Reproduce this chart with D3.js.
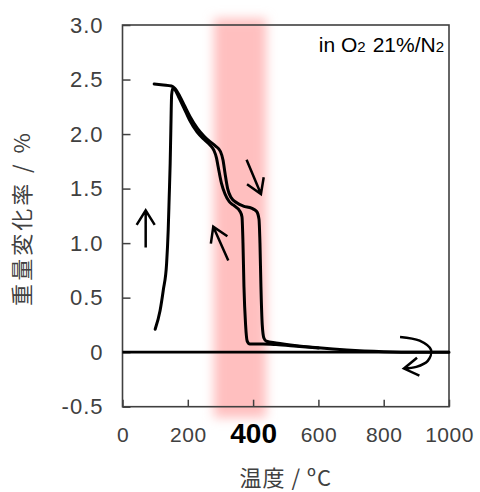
<!DOCTYPE html>
<html>
<head>
<meta charset="utf-8">
<script src="https://cdn.jsdelivr.net/npm/d3@7"></script>
<style>
  body { margin: 0; background: #fff; }
  svg { display: block; font-family: "Liberation Sans", Arial, sans-serif; }
</style>
</head>
<body>
<div id="chart"></div>
<script>
// heating run (flat start, right branch)
const heatTemp = [97, 125, 150, 160, 175, 190, 207, 230, 250, 268, 285, 300, 308, 314, 322, 332, 350, 370, 395, 411, 418, 421, 424, 428, 433, 441, 470, 533, 600, 687, 800, 900, 1000];
const heatMass = [2.46, 2.45, 2.44, 2.42, 2.35, 2.26, 2.16, 2.05, 1.98, 1.93, 1.89, 1.84, 1.76, 1.64, 1.50, 1.42, 1.37, 1.34, 1.32, 1.29, 1.22, 1.0, 0.6, 0.25, 0.13, 0.10, 0.085, 0.06, 0.04, 0.02, 0.005, 0, 0];

// second run (steep rise, left branch)
const coolTemp = [100, 115, 125, 135, 140, 143, 146, 148, 150.5, 154, 160, 172, 188, 205, 228, 250, 268, 280, 288, 293, 303, 314, 327, 339, 360, 366, 369, 372, 377, 382, 390, 430, 470, 533, 600];
const coolMass = [0.21, 0.38, 0.57, 0.81, 1.12, 1.42, 1.73, 2.03, 2.36, 2.42, 2.41, 2.34, 2.24, 2.13, 2.02, 1.95, 1.90, 1.85, 1.78, 1.70, 1.55, 1.45, 1.38, 1.35, 1.29, 1.24, 1.0, 0.6, 0.25, 0.10, 0.075, 0.075, 0.07, 0.055, 0.038];

const yTicks = [-0.5, 0, 0.5, 1.0, 1.5, 2.0, 2.5, 3.0];
const yTickLabels = ["-0.5", "0", "0.5", "1.0", "1.5", "2.0", "2.5", "3.0"];
const xTicks = [0, 200, 400, 600, 800, 1000];

// highlighted temperature band
const bandRange = [280, 440];

// arrows: [tailT, tailM, tipT, tipM]
const arrows = [
    [71, 0.96, 71, 1.30],
    [324, 0.84, 278, 1.15],
    [380, 1.765, 424, 1.45]
];
const loopTemp = [850, 910, 945, 935, 900, 862];
const loopMass = [0.14, 0.105, 0.02, -0.08, -0.135, -0.15];

const width = 480;
const height = 492;

const svg = d3.select("#chart")
    .append("svg")
    .attr("width", width)
    .attr("height", height);

const x = d3.scaleLinear().domain([0, 1000]).range([122.5, 449]);
const y = d3.scaleLinear().domain([-0.5, 3]).range([406.7, 25]);

// blur for the pink band
const defs = svg.append("defs");
defs.append("filter")
    .attr("id", "blur")
    .attr("x", "-50%").attr("y", "-10%")
    .attr("width", "200%").attr("height", "120%")
    .append("feGaussianBlur")
    .attr("stdDeviation", 5.5);

svg.append("rect")
    .attr("x", x(bandRange[0]))
    .attr("y", y(3.06))
    .attr("width", x(bandRange[1]) - x(bandRange[0]))
    .attr("height", y(-0.6) - y(3.06))
    .attr("fill", "#ffbfbf")
    .attr("filter", "url(#blur)");

// axes
const yAxis = d3.axisLeft(y)
    .tickValues(yTicks)
    .tickFormat(function(d, i) { return yTickLabels[i]; })
    .tickSizeInner(-8)
    .tickSizeOuter(0)
    .tickPadding(19);

const gy = svg.append("g")
    .attr("transform", "translate(" + x(0) + ",0)")
    .call(yAxis);

const xAxis = d3.axisBottom(x)
    .tickValues(xTicks)
    .tickFormat(d3.format("d"))
    .tickSizeInner(-7)
    .tickSizeOuter(0)
    .tickPadding(20);

const gx = svg.append("g")
    .attr("transform", "translate(0," + y(-0.5) + ")")
    .call(xAxis);

[gx, gy].forEach(function(g) {
    g.select(".domain").remove();
    g.selectAll("line").attr("stroke", "#404040").attr("stroke-width", 1.5);
    g.selectAll("text")
        .attr("fill", "#404040")
        .style("font-family", "'Liberation Sans', Arial, sans-serif");
});

gy.selectAll("text")
    .style("font-size", "22px")
    .style("letter-spacing", "1px");

gx.selectAll("text")
    .style("font-size", "21px")
    .style("letter-spacing", "0.5px");

gx.selectAll(".tick")
    .filter(function(d) { return d === 400; })
    .select("text")
    .attr("fill", "#000")
    .attr("dy", "16px")
    .style("font-weight", "bold")
    .style("font-size", "28px")
    .style("letter-spacing", "0px");

// frame
svg.append("rect")
    .attr("x", x(0))
    .attr("y", y(3))
    .attr("width", x(1000) - x(0))
    .attr("height", y(-0.5) - y(3))
    .attr("fill", "none")
    .attr("stroke", "#404040")
    .attr("stroke-width", 1.6);

// zero line
svg.append("line")
    .attr("x1", x(0)).attr("x2", x(1000))
    .attr("y1", y(0)).attr("y2", y(0))
    .attr("stroke", "#000")
    .attr("stroke-width", 2.8);

// curves
const line = d3.line()
    .x(function(d) { return x(d[0]); })
    .y(function(d) { return y(d[1]); })
    .curve(d3.curveMonotoneX);

[[heatTemp, heatMass], [coolTemp, coolMass]].forEach(function(s) {
    svg.append("path")
        .datum(d3.zip(s[0], s[1]))
        .attr("d", line)
        .attr("fill", "none")
        .attr("stroke", "#000")
        .attr("stroke-width", 3)
        .attr("stroke-linejoin", "round")
        .attr("stroke-linecap", "round");
});

// arrows
function arrowHead(tipX, tipY, ang) {
    const len = 17;
    const spread = 0.56;
    const p1 = [tipX - len * Math.cos(ang - spread), tipY - len * Math.sin(ang - spread)];
    const p2 = [tipX - len * Math.cos(ang + spread), tipY - len * Math.sin(ang + spread)];
    return "M" + p1 + "L" + tipX + "," + tipY + "L" + p2;
}

arrows.forEach(function(a) {
    const x0 = x(a[0]), y0 = y(a[1]), x1 = x(a[2]), y1 = y(a[3]);
    const ang = Math.atan2(y1 - y0, x1 - x0);
    svg.append("path")
        .attr("d", "M" + x0 + "," + y0 + "L" + x1 + "," + y1 + arrowHead(x1, y1, ang))
        .attr("fill", "none")
        .attr("stroke", "#000")
        .attr("stroke-width", 2.5)
        .attr("stroke-linejoin", "miter");
});

const loopPts = d3.zip(loopTemp, loopMass);
const loopLine = d3.line()
    .x(function(d) { return x(d[0]); })
    .y(function(d) { return y(d[1]); })
    .curve(d3.curveCatmullRom);

const nEnd = loopPts.length - 1;
const loopAng = Math.atan2(y(loopPts[nEnd][1]) - y(loopPts[nEnd - 1][1]), x(loopPts[nEnd][0]) - x(loopPts[nEnd - 1][0]));

svg.append("path")
    .attr("d", loopLine(loopPts) + arrowHead(x(loopPts[nEnd][0]), y(loopPts[nEnd][1]), loopAng))
    .attr("fill", "none")
    .attr("stroke", "#000")
    .attr("stroke-width", 2.5);

// atmosphere label
const label = svg.append("text")
    .attr("x", 444)
    .attr("y", 51.5)
    .attr("text-anchor", "end")
    .attr("fill", "#000")
    .style("font-size", "21px");
label.append("tspan").text("in O");
label.append("tspan").text("2").style("font-size", "15px");
label.append("tspan").attr("dx", 7).text("21%/N");
label.append("tspan").text("2").style("font-size", "15px");

// axis titles
svg.append("text")
    .attr("x", (x(0) + x(1000)) / 2)
    .attr("y", 486)
    .attr("text-anchor", "middle")
    .attr("fill", "#404040")
    .style("font-size", "22px")
    .style("letter-spacing", "1px")
    .style("font-family", "'Noto Sans CJK JP', sans-serif")
    .text("温度 / ºC");

svg.append("text")
    .attr("transform", "translate(30,218) rotate(-90)")
    .attr("text-anchor", "middle")
    .attr("fill", "#404040")
    .style("font-size", "22px")
    .style("letter-spacing", "3px")
    .style("font-family", "'Noto Sans CJK JP', sans-serif")
    .text("重量変化率 / %");
</script>
</body>
</html>
